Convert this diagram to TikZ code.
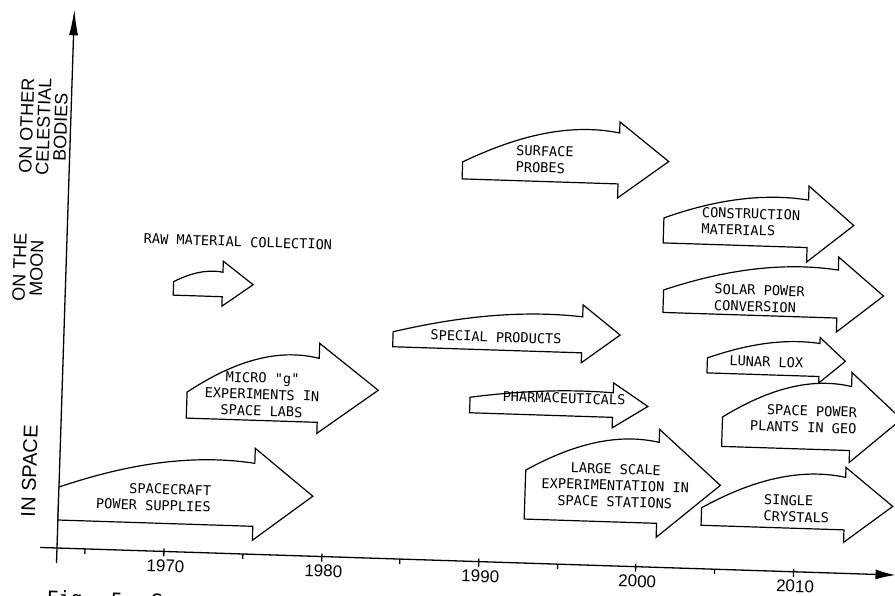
\documentclass[tikz,border=0pt]{standalone}
\usepackage{fontspec}
\setmainfont{Liberation Sans}
\newfontfamily\typefont{DejaVu Sans Mono}
\usetikzlibrary{arrows.meta}

\begin{document}
\begin{tikzpicture}[x=1pt,y=1pt,
    axis/.style={line width=1.3pt},
    plan/.style={draw,line width=1.2pt,fill=white,line join=miter}]

        \useasboundingbox (0,0) rectangle (895,595);
        \clip (0,0) rectangle (895,595);

        \begin{scope}[shift={(57,47)},rotate=-1.85]

          \draw[axis,-{Latex[length=20pt,width=10pt]}] (-17,0) -- (839,0);
          \draw[axis,-{Latex[length=26pt,width=9pt]}] (0,-15) -- (0,539);

          \draw[axis] (107,3) -- (107,-5);
          \draw[axis] (265,3) -- (265,-5);
          \draw[axis] (422,3) -- (422,-5);
          \draw[axis] (579,3) -- (579,-5);
          \draw[axis] (737,3) -- (737,-5);
          \draw[axis] (28,0) -- (28,-5);
          \draw[axis] (186,0) -- (186,-5);
          \draw[axis] (343,0) -- (343,-5);
          \draw[axis] (501,0) -- (501,-5);
          \draw[axis] (658,0) -- (658,-5);

          \begin{scope}[every node/.style={inner sep=0pt, transform shape, font=\fontsize{17}{17}\selectfont}]
            \node (y1970) at (109,-14.5) {1970};
            \node (y1980) at (267,-14.5) {1980};
            \node (y1990) at (424,-14.5) {1990};
            \node (y2000) at (581,-14.5) {2000};
            \node (y2010) at (739,-14.5) {2010};
          \end{scope}

          \begin{scope}[every node/.style={rotate=90, align=center, inner sep=0pt, transform shape, font=\fontsize{18}{17}\selectfont}]
            \node (celestial) at (-27,421) {ON OTHER\\CELESTIAL\\BODIES};
            \node (moon) at (-38,279) {ON THE\\MOON};
            \node[font=\fontsize{20}{20}\selectfont] (inspace) at (-30,76) {IN SPACE};
          \end{scope}

          \draw[plan] (0,28) -- (0,61) .. controls (51,80) and (121,100) .. (195,91)
            -- (195,106) -- (254,60) -- (195,14) -- (195,28) -- cycle;
          \draw[plan] (125,134) -- (125,160) .. controls (159,184) and (206,209) .. (256,198)
            -- (256,213) -- (316,168) -- (256,123) -- (256,134) -- cycle;
          \draw[plan] (108,256.5) -- (108,270) .. controls (121,277) and (138,284) .. (157,281)
            -- (157,292) -- (187.5,269.5) -- (157,247) -- (157,256.5) -- cycle;
          \draw[plan] (329,212) -- (329,227) .. controls (378,240) and (446,254) .. (518,248)
            -- (518,260) -- (556,231) -- (518,202) -- (518,212) -- cycle;
          \draw[plan] (408,148.5) -- (408,164) .. controls (445,170) and (497,176) .. (551,173)
            -- (551,183) -- (586,160.5) -- (551,138) -- (551,148.5) -- cycle;
          \draw[plan] (393,382) -- (393,399) .. controls (434,420) and (490,443) .. (549,433)
            -- (549,444) -- (599,406) -- (549,368) -- (549,382) -- cycle;
          \draw[plan] (596,324.5) -- (596,349.5) .. controls (633,364) and (685,379) .. (740,372)
            -- (740,386) -- (786,348) -- (740,310) -- (740,324.5) -- cycle;
          \draw[plan] (598,255) -- (598,277.5) .. controls (643,294) and (706,311) .. (772,303)
            -- (772,316) -- (818,278.5) -- (772,241) -- (772,255) -- cycle;
          \draw[plan] (644,196) -- (644,211) .. controls (673,222) and (713,234) .. (756,229)
            -- (756,235) -- (782,212) -- (756,189.5) -- (756,196) -- cycle;
          \draw[plan] (661,123) -- (661,152.4) .. controls (694,174) and (740,197) .. (789,187)
            -- (789,201) -- (840,156) -- (789,111) -- (789,123) -- cycle;
          \draw[plan] (643,43.5) -- (643,61) .. controls (680,83) and (732,106) .. (786,96)
            -- (786,106) -- (834,68.5) -- (786,31) -- (786,43.5) -- cycle;
          \draw[plan] (466,44) -- (466,93) .. controls (500,113) and (548,135) .. (598.5,125)
            -- (598.5,138) -- (661,84) -- (598.5,30) -- (598.5,44) -- cycle;

          \begin{scope}[every node/.style={inner sep=0pt, transform shape, font=\typefont\fontsize{13.6}{16.5}\selectfont}]
            \node[align=right] (spacecraft) at (95,54) {SPACECRAFT\\POWER SUPPLIES};
            \node[align=center] (microg) at (200,160) {MICRO "g"\\EXPERIMENTS IN\\SPACE LABS};
            \node (rawmaterial) at (171,312) {RAW MATERIAL COLLECTION};
            \node (special) at (432,225) {SPECIAL PRODUCTS};
            \node (pharma) at (502,166) {PHARMACEUTICALS};
            \node[align=left] (surface) at (475,404) {SURFACE\\PROBES};
            \node[align=left] (construction) at (683,348) {CONSTRUCTION\\MATERIALS};
            \node[align=left] (solar) at (694,272) {SOLAR POWER\\CONVERSION};
            \node (lox) at (703,209) {LUNAR LOX};
            \node[align=right] (geo) at (742,153) {SPACE POWER\\PLANTS IN GEO};
            \node[align=left] (crystals) at (738,63) {SINGLE\\CRYSTALS};
            \node[align=center] (largescale) at (556,80.5) {LARGE SCALE\\EXPERIMENTATION IN\\SPACE STATIONS};
            \node[anchor=north west, font=\typefont\fontsize{20}{20}\selectfont] (caption) at (-9,-42) {Fig. 5. S};
          \end{scope}

        \end{scope}

\end{tikzpicture}
\end{document}
